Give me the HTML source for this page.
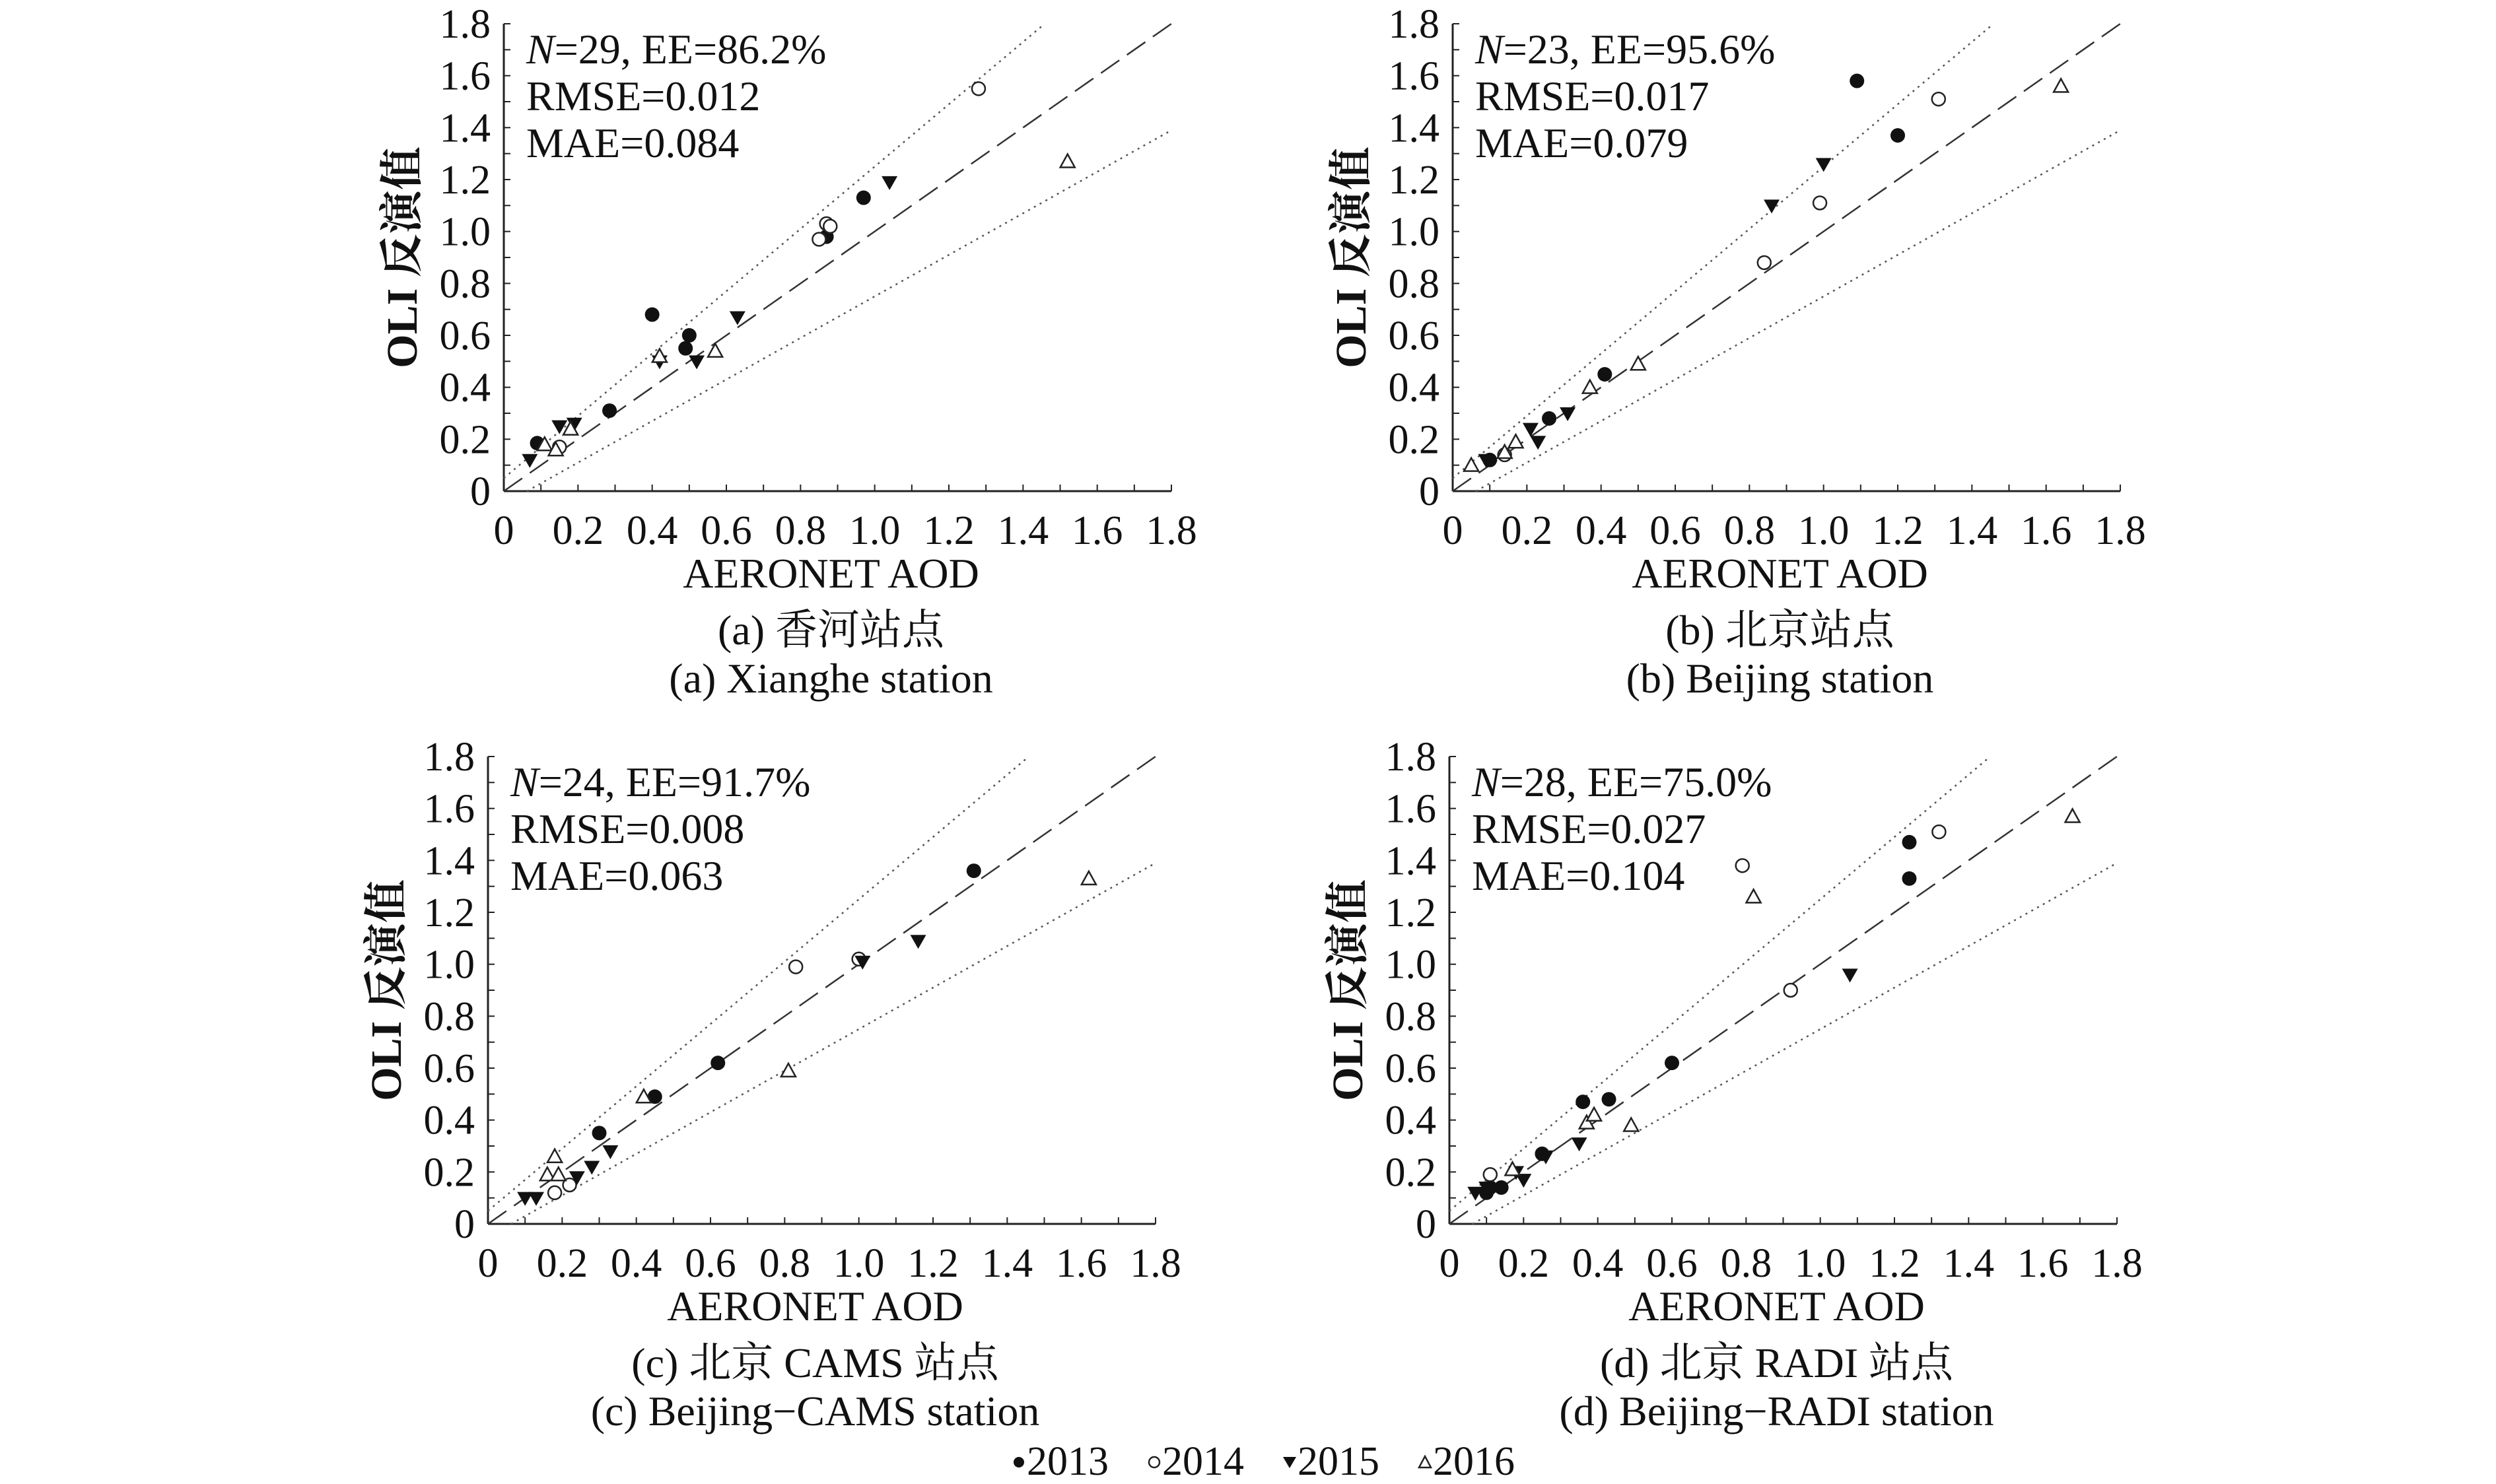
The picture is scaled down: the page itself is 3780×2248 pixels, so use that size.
<!DOCTYPE html>
<html><head><meta charset="utf-8"><style>
html,body{margin:0;padding:0;background:#fff;}
svg{display:block;}
text{font-family:"Liberation Serif","Noto Serif CJK SC","Noto Sans CJK SC",serif;fill:#111;}
</style></head><body>
<svg id="chart" width="3780" height="2248" viewBox="0 0 3780 2248" xmlns="http://www.w3.org/2000/svg"></svg>
<script>
const ticks = ["0","0.2","0.4","0.6","0.8","1.0","1.2","1.4","1.6","1.8"];
const tickValues = [0,0.2,0.4,0.6,0.8,1.0,1.2,1.4,1.6,1.8];
const years = ["2013","2014","2015","2016"];
const panelTitlesCN = ["(a) 香河站点","(b) 北京站点","(c) 北京 CAMS 站点","(d) 北京 RADI 站点"];
const panelTitlesEN = ["(a) Xianghe station","(b) Beijing station","(c) Beijing\u2212CAMS station","(d) Beijing\u2212RADI station"];
const statsN = ["29","23","24","28"];
const statsEE = ["86.2%","95.6%","91.7%","75.0%"];
const statsRMSE = ["0.012","0.017","0.008","0.027"];
const statsMAE = ["0.084","0.079","0.063","0.104"];

// panel a
const a2013x=[0.09,0.40,0.50,0.49,0.285,0.87,0.97], a2013y=[0.185,0.68,0.60,0.55,0.31,0.98,1.13];
const a2014x=[1.28,0.85,0.87,0.88,0.15], a2014y=[1.55,0.97,1.03,1.02,0.17];
const a2015x=[0.07,0.15,0.19,0.42,0.52,0.63,1.04], a2015y=[0.12,0.25,0.26,0.50,0.50,0.67,1.19];
const a2016x=[1.52,0.42,0.57,0.11,0.14,0.18], a2016y=[1.27,0.52,0.54,0.18,0.16,0.24];
// panel b
const b2013x=[1.09,1.20,0.41,0.26,0.10], b2013y=[1.58,1.37,0.45,0.28,0.12];
const b2014x=[1.31,0.84,0.99,0.14], b2014y=[1.51,0.88,1.11,0.14];
const b2015x=[0.86,1.00,0.31,0.21,0.23,0.09], b2015y=[1.10,1.26,0.30,0.24,0.19,0.12];
const b2016x=[1.64,0.50,0.37,0.05,0.17,0.14], b2016y=[1.56,0.49,0.40,0.10,0.19,0.15];
// panel c
const c2013x=[1.31,0.62,0.45,0.30], c2013y=[1.36,0.62,0.49,0.35];
const c2014x=[0.83,1.00,0.22,0.18], c2014y=[0.99,1.02,0.15,0.12];
const c2015x=[1.01,1.16,0.33,0.28,0.24,0.13,0.10], c2015y=[1.01,1.09,0.28,0.22,0.18,0.10,0.10];
const c2016x=[1.62,0.81,0.42,0.18,0.16,0.19], c2016y=[1.33,0.59,0.49,0.26,0.19,0.19];
// panel d
const d2013x=[1.24,1.24,0.60,0.43,0.36,0.25,0.14,0.10,0.11], d2013y=[1.47,1.33,0.62,0.48,0.47,0.27,0.14,0.12,0.14];
const d2014x=[0.79,1.32,0.92,0.11], d2014y=[1.38,1.51,0.90,0.19];
const d2015x=[1.08,0.35,0.26,0.18,0.20,0.07,0.10], d2015y=[0.96,0.31,0.26,0.20,0.17,0.12,0.14];
const d2016x=[1.68,0.82,0.37,0.49,0.17,0.39], d2016y=[1.57,1.26,0.39,0.38,0.21,0.42];

const seriesX=[[a2013x,a2014x,a2015x,a2016x],[b2013x,b2014x,b2015x,b2016x],[c2013x,c2014x,c2015x,c2016x],[d2013x,d2014x,d2015x,d2016x]];
const seriesY=[[a2013y,a2014y,a2015y,a2016y],[b2013y,b2014y,b2015y,b2016y],[c2013y,c2014y,c2015y,c2016y],[d2013y,d2014y,d2015y,d2016y]];

const NS="http://www.w3.org/2000/svg";
const svg=document.getElementById('chart');
function mk(tag,attrs,parent,txt){const e=document.createElementNS(NS,tag);for(const k in attrs)e.setAttribute(k,attrs[k]);if(txt!==undefined)e.textContent=txt;(parent||svg).appendChild(e);return e;}

const layout=[{x0:763,y0:744},{x0:2200,y0:744},{x0:739,y0:1854},{x0:2195,y0:1854}];
const W=1011,H=708,MAX=1.8;
const ids=["a","b","c","d"];

layout.forEach((L,p)=>{
  const g=mk('g',{});
  
  
  const sx=v=>L.x0+v/MAX*W, sy=v=>L.y0-v/MAX*H;
  const ax=mk('line',{x1:L.x0,y1:L.y0,x2:sx(MAX),y2:L.y0,stroke:'#222','stroke-width':3},g);
  
  const ay=mk('line',{x1:L.x0,y1:L.y0,x2:L.x0,y2:sy(MAX),stroke:'#222','stroke-width':3},g);
  
  for(let i=1;i<=18;i++){
    const v=i*0.1;
    mk('line',{x1:sx(v),y1:L.y0,x2:sx(v),y2:L.y0-10,stroke:'#222','stroke-width':2},g);
    mk('line',{x1:L.x0,y1:sy(v),x2:L.x0+10,y2:sy(v),stroke:'#222','stroke-width':2},g);
  }
  tickValues.forEach((v,i)=>{
    const tx=mk('text',{x:sx(v),y:L.y0+80,'font-size':62,'text-anchor':'middle'},g,ticks[i]);
    
    const ty=mk('text',{x:L.x0-20,y:sy(v)+21,'font-size':62,'text-anchor':'end'},g,ticks[i]);
    
  });
  const l11=mk('line',{x1:sx(0),y1:sy(0),x2:sx(1.8),y2:sy(1.8),stroke:'#333','stroke-width':2.5,'stroke-dasharray':'34,14'},g);
  
  const up=mk('line',{x1:sx(0),y1:sy(0.05),x2:sx((1.8-0.05)/1.2),y2:sy(1.8),stroke:'#555','stroke-width':2.5,'stroke-dasharray':'3,7'},g);
  
  const lo=mk('line',{x1:sx(0.0625),y1:sy(0),x2:sx(1.8),y2:sy(0.8*1.8-0.05),stroke:'#555','stroke-width':2.5,'stroke-dasharray':'3,7'},g);
  
  for(let s=0;s<4;s++){
    const xs=seriesX[p][s], ys=seriesY[p][s];
    xs.forEach((xv,i)=>{
      const cx=sx(xv), cy=sy(ys[i]); let m;
      if(s===0) m=mk('circle',{cx:cx,cy:cy,r:11,fill:'#111'},g);
      else if(s===1) m=mk('circle',{cx:cx,cy:cy,r:10,fill:'#fff',stroke:'#222','stroke-width':2.5},g);
      else if(s===2) m=mk('polygon',{points:`${cx-12},${cy-9} ${cx+12},${cy-9} ${cx},${cy+12}`,fill:'#111'},g);
      else m=mk('polygon',{points:`${cx-11},${cy+9} ${cx+11},${cy+9} ${cx},${cy-11}`,fill:'#fff',stroke:'#222','stroke-width':2.5},g);
      
      
    });
  }
  const t1=mk('text',{x:L.x0+34,y:L.y0-H+60,'font-size':64},g);
  
  mk('tspan',{'font-style':'italic'},t1,'N');
  mk('tspan',{},t1,'='+statsN[p]+', EE='+statsEE[p]);
  const t2=mk('text',{x:L.x0+34,y:L.y0-H+131,'font-size':64},g,'RMSE='+statsRMSE[p]);
  
  const t3=mk('text',{x:L.x0+34,y:L.y0-H+202,'font-size':64},g,'MAE='+statsMAE[p]);
  
  const yt=mk('text',{x:0,y:0,'font-size':66,'font-weight':'bold','text-anchor':'middle',transform:`translate(${L.x0-132},${L.y0-H/2}) rotate(-90)`},g,'OLI 反演值');
  
  const xt=mk('text',{x:L.x0+W/2-10,y:L.y0+146,'font-size':64,'text-anchor':'middle'},g,'AERONET AOD');
  
  const c1=mk('text',{x:L.x0+W/2-10,y:L.y0+232,'font-size':64,'text-anchor':'middle'},g,panelTitlesCN[p]);
  
  const c2=mk('text',{x:L.x0+W/2-10,y:L.y0+305,'font-size':64,'text-anchor':'middle'},g,panelTitlesEN[p]);
  
});

const lg=mk('g',{});


const lx=[1535,1740,1945,2150], ly=2248-14;
years.forEach((y,i)=>{
  const x=lx[i], cy=ly-19; let m;
  if(i===0) m=mk('circle',{cx:x+8,cy:cy,r:8,fill:'#111'},lg);
  else if(i===1) m=mk('circle',{cx:x+8,cy:cy,r:8,fill:'#fff',stroke:'#222','stroke-width':2.5},lg);
  else if(i===2) m=mk('polygon',{points:`${x-2},${cy-8} ${x+18},${cy-8} ${x+8},${cy+9}`,fill:'#111'},lg);
  else m=mk('polygon',{points:`${x-1},${cy+8} ${x+17},${cy+8} ${x+8},${cy-9}`,fill:'#fff',stroke:'#222','stroke-width':2.5},lg);
  
  
  const t=mk('text',{x:x+20,y:ly,'font-size':62},lg,y);
  
  
});
</script>
</body></html>
